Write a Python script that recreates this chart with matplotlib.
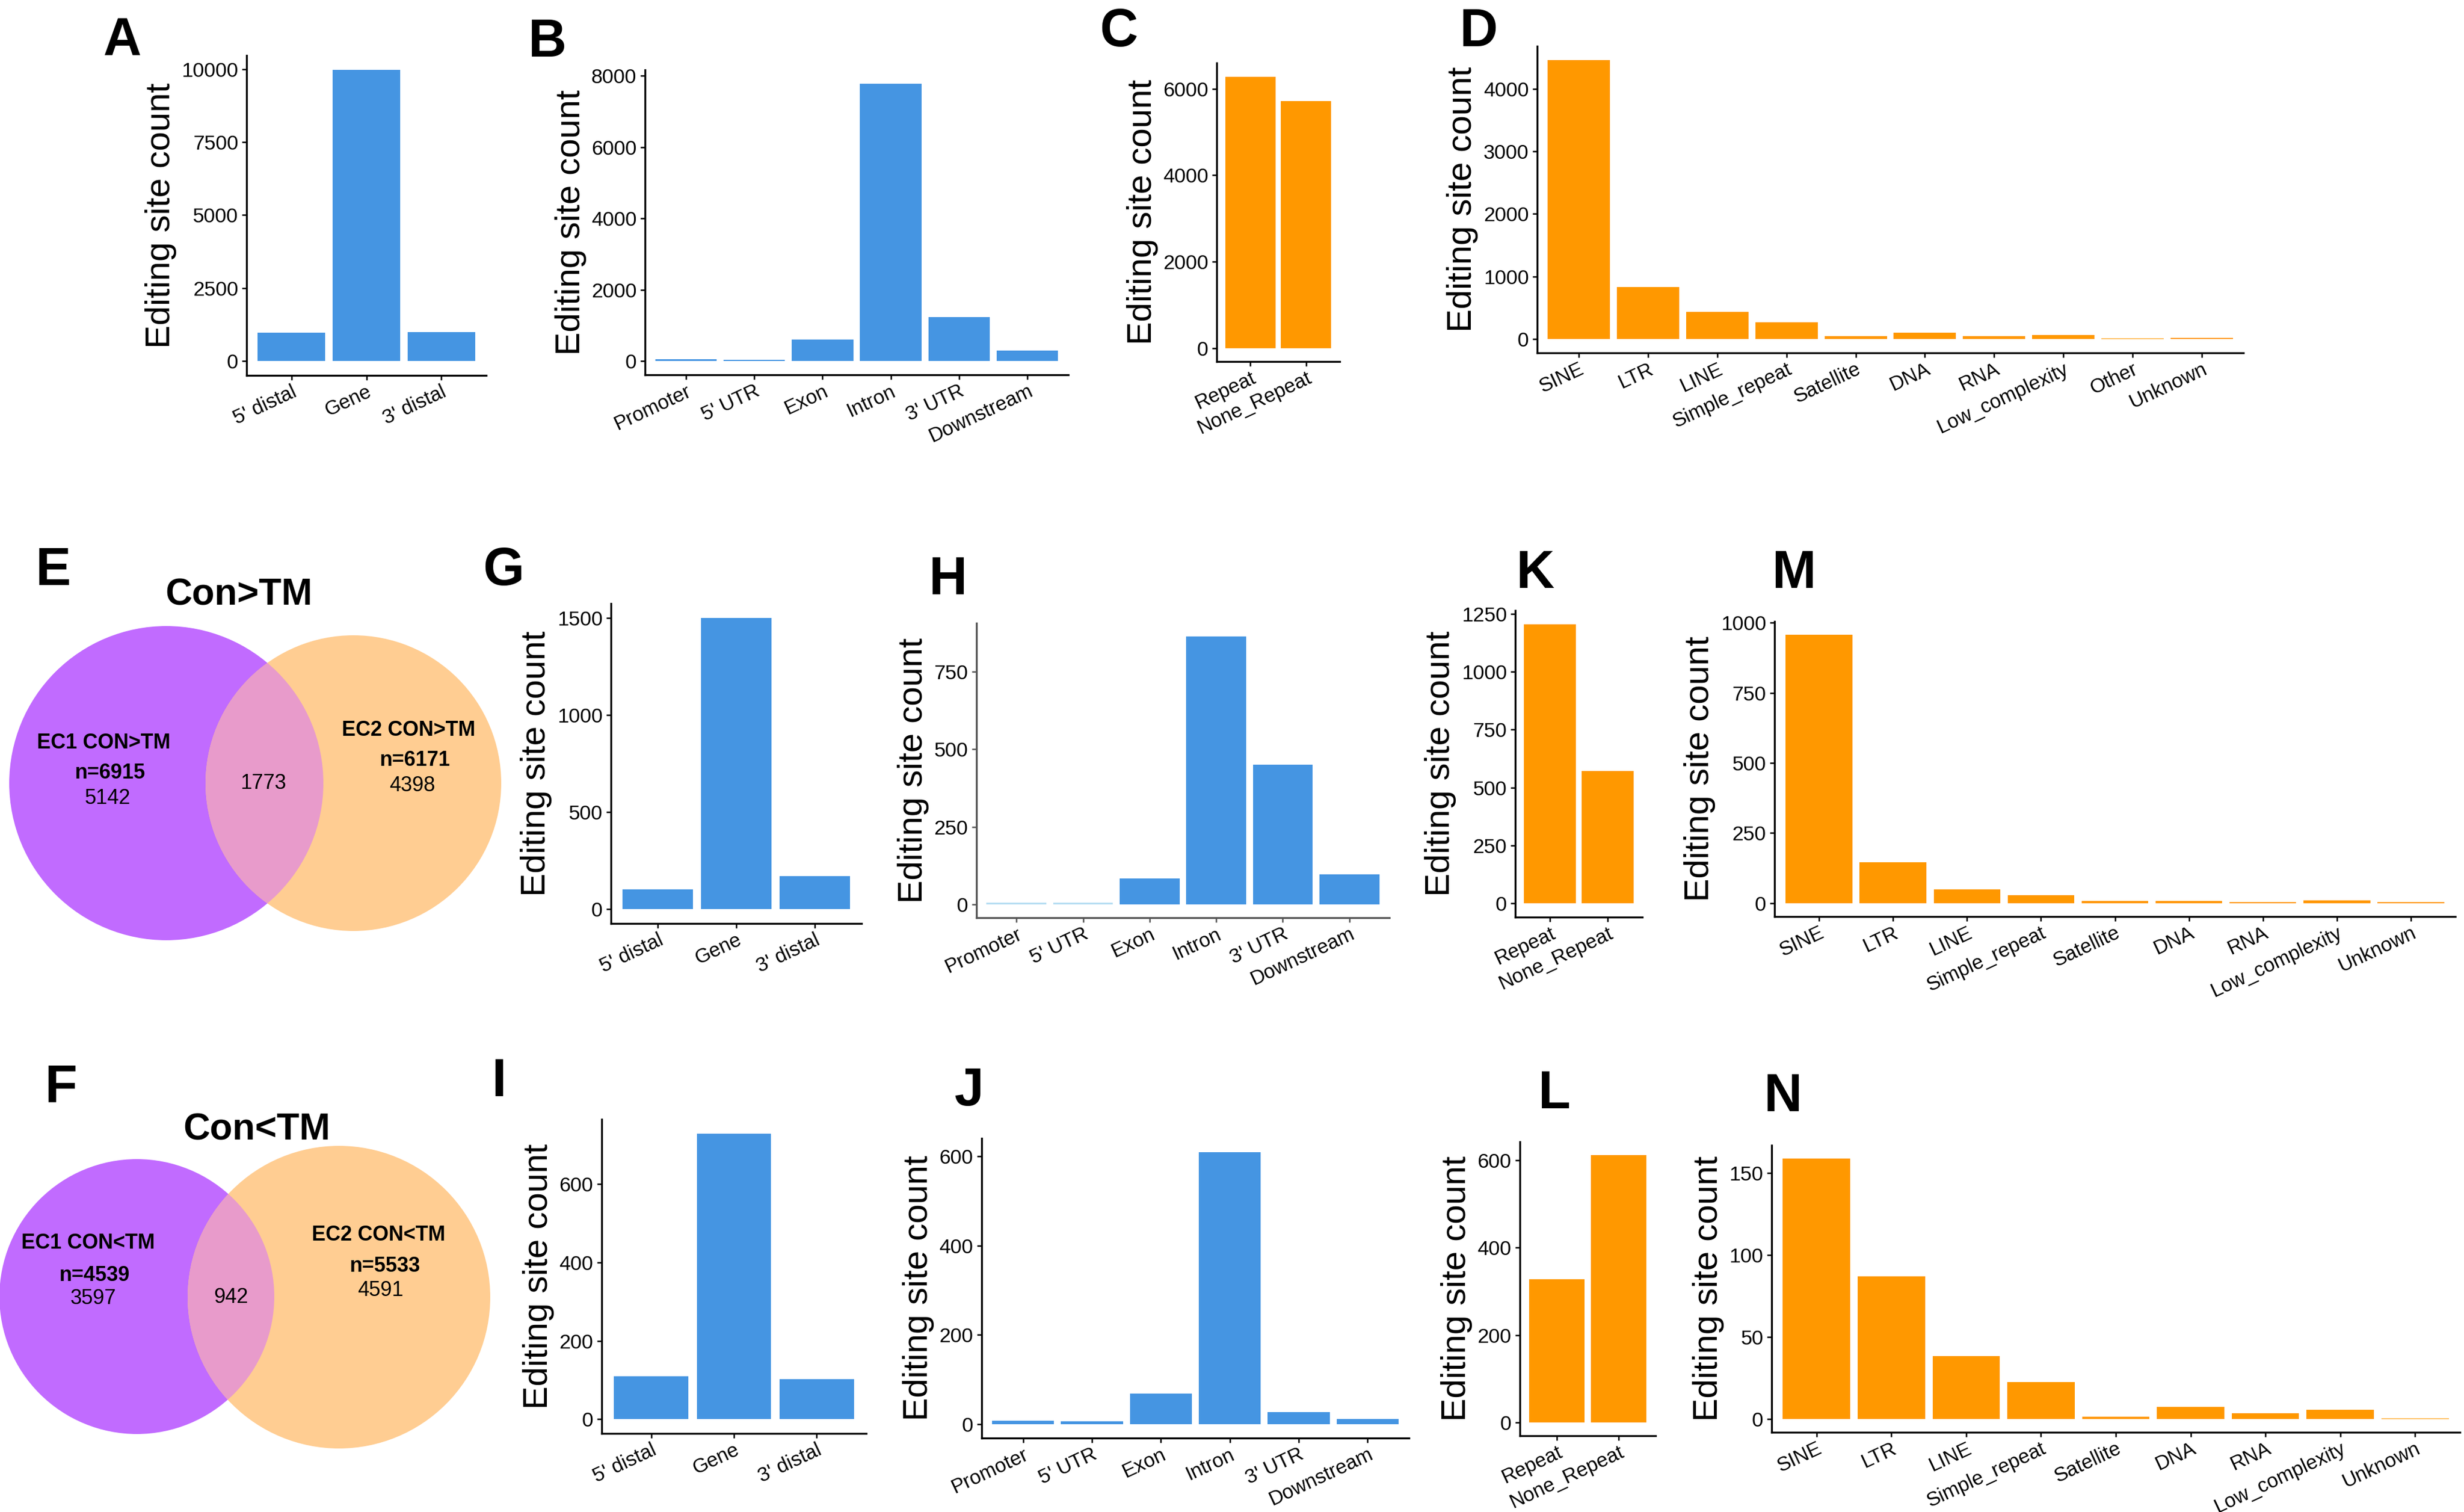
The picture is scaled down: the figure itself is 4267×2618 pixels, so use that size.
import numpy as np
import matplotlib
matplotlib.use("Agg")
import matplotlib.pyplot as plt
from matplotlib.patches import Circle

plt.rcParams['font.family'] = ['Liberation Sans', 'DejaVu Sans']

W, H = 4267, 2618
DPI = 300

# categories
region_cats = ["5' distal", "Gene", "3' distal"]
gene_cats = ["Promoter", "5' UTR", "Exon", "Intron", "3' UTR", "Downstream"]
rep_cats = ["Repeat", "None_Repeat"]
class_cats10 = ["SINE", "LTR", "LINE", "Simple_repeat", "Satellite", "DNA", "RNA",
                "Low_complexity", "Other", "Unknown"]
class_cats9 = ["SINE", "LTR", "LINE", "Simple_repeat", "Satellite", "DNA", "RNA",
               "Low_complexity", "Unknown"]

# counts
a_vals = [960, 9970, 990]
b_vals = [50, 25, 602, 7777, 1237, 289]
c_vals = [6285, 5715]
d_vals = [4456, 833, 433, 264, 42, 99, 42, 61, 5, 19]
g_vals = [102, 1498, 169]
h_vals = [5, 5, 84, 863, 451, 97]
k_vals = [1205, 572]
m_vals = [957, 145, 49, 28, 7, 8, 4, 10, 3]
i_vals = [109, 729, 102]
j_vals = [8, 7, 69, 609, 27, 12]
l_vals = [328, 612]
n_vals = [159, 87, 38.6, 22.6, 1.5, 7.7, 3.7, 5.7, 0.6]

# venn data
e_title = "Con>TM"
e_sets = ["EC1 CON>TM", "EC2 CON>TM"]
e_totals = [6915, 6171]
e_parts = [5142, 1773, 4398]
f_title = "Con<TM"
f_sets = ["EC1 CON<TM", "EC2 CON<TM"]
f_totals = [4539, 5533]
f_parts = [3597, 942, 4591]

BLUE = '#4595E2'
ORANGE = '#FF9800'
PURPLE = '#C16BFF'
PEACH = '#FFCD92'
PINK = '#E89BCB'
LIGHTBLUE = '#B5DDF2'

fig = plt.figure(figsize=(W / DPI, H / DPI), dpi=DPI)

# overlay in pixel coords for the venn diagrams
vax = fig.add_axes([0, 0, 1, 1])
vax.set_xlim(0, W)
vax.set_ylim(H, 0)
vax.axis('off')


def venn(c1, r1, c2, r2, title, title_xy, sets, totals, parts, pos):
    p1 = Circle(c1, r1, fc=PURPLE, ec='none')
    p2 = Circle(c2, r2, fc=PEACH, ec='none')
    vax.add_patch(p1)
    vax.add_patch(p2)
    lens = Circle(c2, r2, fc=PINK, ec='none')
    vax.add_patch(lens)
    lens.set_clip_path(p1)
    vax.text(*title_xy, title, fontsize=15.4, fontweight='bold', ha='center', va='center')
    (l_name, l_n, l_c, mid, r_name, r_n, r_c) = pos
    vax.text(*l_name, sets[0], fontsize=8.6, fontweight='bold', ha='center', va='center')
    vax.text(*l_n, "n=%d" % totals[0], fontsize=8.6, fontweight='bold', ha='center', va='center')
    vax.text(*l_c, str(parts[0]), fontsize=8.6, ha='center', va='center')
    vax.text(*mid, str(parts[1]), fontsize=8.6, ha='center', va='center')
    vax.text(*r_name, sets[1], fontsize=8.6, fontweight='bold', ha='center', va='center')
    vax.text(*r_n, "n=%d" % totals[1], fontsize=8.6, fontweight='bold', ha='center', va='center')
    vax.text(*r_c, str(parts[2]), fontsize=8.6, ha='center', va='center')


venn((288, 1356), 272, (612, 1356), 256, e_title, (414, 1030), e_sets, e_totals, e_parts,
     [(180, 1286), (191, 1339), (186, 1382), (456, 1357), (708, 1264), (719, 1317), (714, 1361)])
venn((237, 2245), 238, (587, 2246), 262, f_title, (445, 1956), f_sets, f_totals, f_parts,
     [(153, 2153), (164, 2208), (161, 2249), (400, 2246), (656, 2139), (667, 2192), (659, 2235)])


def bar_panel(box, cats, vals, colors, step, axis_color='black'):
    l, t, r, b = box
    ax = fig.add_axes([l / W, 1 - b / H, (r - l) / W, (b - t) / H])
    ax.patch.set_alpha(0)
    x = np.arange(len(cats))
    ax.bar(x, vals, width=0.9, color=colors)
    top = max(vals)
    ax.set_xlim(-0.6, len(cats) - 0.4)
    ax.set_ylim(-0.05 * top, 1.05 * top)
    ax.set_yticks(np.arange(0, top * 1.05, step))
    ax.set_xticks(x)
    ax.set_xticklabels(cats, rotation=25, ha='right', rotation_mode='anchor', fontsize=8.3)
    ax.tick_params(axis='y', labelsize=8.5, length=2, width=0.6, pad=1.5, colors=axis_color,
                   labelcolor='black')
    ax.tick_params(axis='x', length=2, width=0.6, pad=0.8, colors=axis_color, labelcolor='black')
    for s in ['top', 'right']:
        ax.spines[s].set_visible(False)
    for s in ['left', 'bottom']:
        ax.spines[s].set_linewidth(0.8)
        ax.spines[s].set_color(axis_color)
    ax.set_ylabel("Editing site count", fontsize=14.5, labelpad=2)
    return ax


bar_panel((427, 96, 842, 650), region_cats, a_vals, BLUE, 2500)
bar_panel((1117, 121, 1850, 649), gene_cats, b_vals, BLUE, 2000)
bar_panel((2107, 109, 2320, 626), rep_cats, c_vals, ORANGE, 2000)
bar_panel((2662, 80, 3885, 611), class_cats10, d_vals, ORANGE, 1000)
bar_panel((1058, 1045, 1492, 1599), region_cats, g_vals, BLUE, 500)
bar_panel((1691, 1079, 2406, 1589), gene_cats, h_vals,
          [LIGHTBLUE, LIGHTBLUE, BLUE, BLUE, BLUE, BLUE], 250, axis_color='#555555')
bar_panel((2624, 1057, 2844, 1588), rep_cats, k_vals, ORANGE, 250)
bar_panel((3073, 1076, 4252, 1587), class_cats9, m_vals, ORANGE, 250)
bar_panel((1042, 1938, 1500, 2482), region_cats, i_vals, BLUE, 200)
bar_panel((1700, 1971, 2440, 2490), gene_cats, j_vals, BLUE, 200)
bar_panel((2632, 1977, 2867, 2486), rep_cats, l_vals, ORANGE, 200)
bar_panel((3068, 1983, 4260, 2480), class_cats9, n_vals, ORANGE, 50)

# panel letters
letters = ["A", "B", "C", "D", "E", "G", "H", "K", "M", "F", "I", "J", "L", "N"]
letter_xy = [(179, 28), (915, 31), (1904, 13), (2528, 13), (62, 946), (836, 946),
             (1609, 962), (2626, 951), (3069, 951), (78, 1841), (852, 1831),
             (1653, 1847), (2664, 1852), (3055, 1857)]
for lab, (x, y) in zip(letters, letter_xy):
    fig.text(x / W, 1 - y / H, lab, fontsize=22, fontweight='bold', ha='left', va='top')

fig.savefig("out.png", dpi=DPI)
